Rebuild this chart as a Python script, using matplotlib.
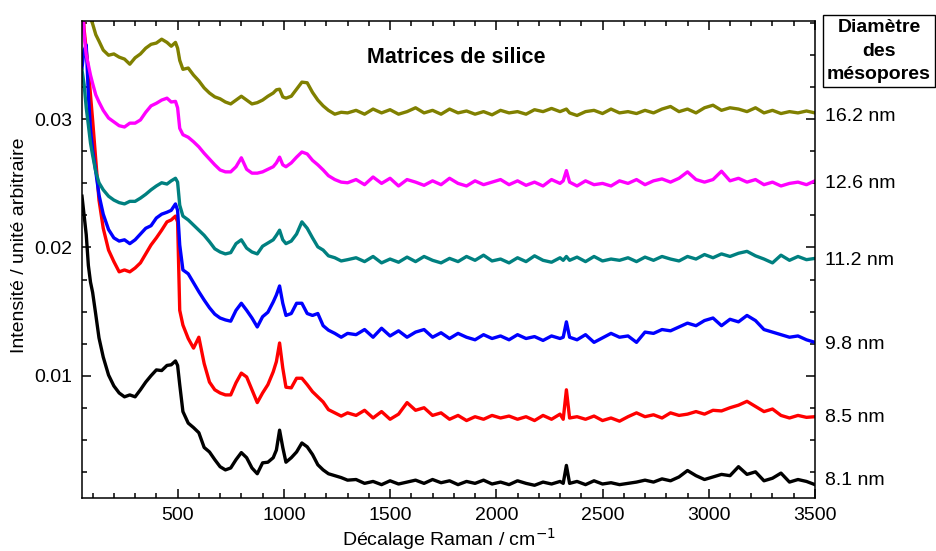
import numpy as np
import matplotlib
matplotlib.use("Agg")
import matplotlib.pyplot as plt
from matplotlib.ticker import MultipleLocator, FormatStrFormatter
import matplotlib.transforms as mtransforms

plt.rcParams['font.family'] = ['Liberation Sans', 'DejaVu Sans']

# décalage Raman (cm-1)
shift = [50, 60, 70, 80, 90, 100, 115, 130, 150, 175, 200, 225, 250, 275, 300, 325, 350, 375,
         400, 425, 450, 470, 490, 500, 510, 525, 550, 575, 600, 625, 650, 675, 700, 725, 750,
         775, 800, 825, 850, 875, 900, 925, 950, 965, 980, 995, 1010, 1035, 1060, 1085, 1110,
         1135, 1160, 1185, 1210, 1240, 1270, 1300,
         1340, 1380, 1420, 1460, 1500, 1540, 1580, 1620, 1660, 1700, 1740, 1780, 1820, 1860,
         1900, 1940, 1980, 2020, 2060, 2100, 2140, 2180, 2220, 2260, 2300, 2315, 2330, 2345,
         2380, 2420, 2460, 2500, 2540, 2580, 2620, 2660, 2700, 2740, 2780, 2820, 2860, 2900,
         2940, 2980, 3020, 3060, 3100, 3140, 3180, 3220, 3260, 3300, 3340, 3380, 3420, 3460, 3500]

# intensités en unités de 1e-3
i_81 = [24.0, 22.5, 21.0, 18.6, 17.3, 16.5, 14.75, 12.95, 11.45, 10.05, 9.2, 8.65, 8.35, 8.5, 8.35,
        8.9, 9.5, 10.0, 10.45, 10.4, 10.8, 10.85, 11.15, 10.8, 9.3, 7.2, 6.3, 5.95, 5.55, 4.4, 4.05,
        3.45, 2.9, 2.65, 2.8, 3.45, 4.0, 3.6, 2.8, 2.35, 3.2, 3.25, 3.6, 4.2, 5.75, 4.4, 3.25, 3.6,
        4.05, 4.75, 4.45, 3.85, 3.05, 2.65, 2.35, 2.2, 2.05, 1.85,
        1.9, 1.6, 1.75, 1.5, 1.8, 1.55, 1.7, 1.85, 1.6, 1.9, 1.65, 1.8, 1.5, 1.75, 1.6, 1.85, 1.55,
        1.7, 1.5, 1.8, 1.6, 1.45, 1.7, 1.55, 1.75, 1.6, 3.0, 1.6, 1.75, 1.5, 1.8, 1.55, 1.65, 1.5,
        1.6, 1.7, 1.85, 1.7, 1.95, 1.8, 2.1, 2.6, 2.2, 1.9, 2.1, 2.3, 2.2, 2.9, 2.3, 2.5, 1.8, 2.0,
        2.4, 1.7, 1.9, 1.75, 1.5]
i_85 = [40.0, 37.0, 35.4, 33.85, 31.9, 29.95, 26.8, 23.7, 21.5, 19.8, 18.9, 18.1, 18.25, 18.1, 18.4,
        18.8, 19.5, 20.2, 20.75, 21.35, 22.0, 22.15, 22.45, 22.0, 15.1, 13.95, 12.9, 12.15, 13.0,
        10.95, 9.5, 8.9, 8.65, 8.5, 8.5, 9.45, 10.2, 9.9, 8.9, 7.9, 8.65, 9.3, 10.3, 11.1, 12.55,
        10.6, 9.1, 9.05, 9.8, 9.8, 9.3, 8.75, 8.35, 7.95, 7.35, 7.1, 6.85, 7.1,
        6.9, 7.3, 6.7, 7.2, 6.6, 7.0, 7.9, 7.3, 7.5, 6.9, 7.1, 6.6, 6.9, 6.5, 6.8, 6.6, 6.9, 6.7,
        6.85, 6.6, 6.8, 6.5, 6.9, 6.6, 7.0, 6.6, 8.9, 6.7, 6.8, 6.6, 6.85, 6.5, 6.7, 6.45, 6.8,
        7.1, 6.8, 6.95, 6.7, 7.1, 6.9, 7.0, 7.2, 7.0, 7.3, 7.25, 7.5, 7.7, 8.0, 7.6, 7.2, 7.4, 6.9,
        6.7, 6.9, 6.75, 6.8]
i_98 = [34.0, 35.4, 35.8, 31.9, 29.2, 27.6, 25.9, 24.1, 22.6, 21.4, 20.75, 20.5, 20.6, 20.3, 20.6,
        21.05, 21.5, 21.7, 22.3, 22.6, 22.75, 22.9, 23.4, 22.9, 20.2, 18.25, 17.95, 17.25, 16.55,
        15.9, 15.3, 14.8, 14.5, 14.35, 14.25, 15.1, 15.65, 15.1, 14.5, 13.8, 14.6, 14.95, 15.75,
        16.3, 17.0, 15.65, 14.7, 14.85, 15.65, 15.65, 14.85, 14.7, 14.85, 13.9, 13.55, 13.3, 13.0,
        13.3,
        13.2, 13.6, 13.0, 13.7, 13.1, 13.5, 13.0, 13.4, 13.6, 13.0, 13.35, 12.9, 13.3, 13.0, 12.8,
        13.2, 12.9, 13.1, 12.8, 13.2, 12.9, 13.05, 12.75, 13.1, 12.9, 13.0, 14.2, 13.0, 12.8, 13.2,
        12.6, 12.95, 13.3, 13.0, 13.1, 12.6, 13.4, 13.3, 13.6, 13.5, 13.8, 14.1, 13.9, 14.3, 14.5,
        13.9, 14.4, 14.2, 14.7, 14.3, 13.6, 13.4, 13.2, 13.0, 13.1, 12.8, 12.6]
i_112 = [33.85, 32.7, 30.9, 29.55, 28.15, 27.2, 25.9, 25.05, 24.5, 24.0, 23.7, 23.5, 23.4, 23.6,
         23.6, 23.85, 24.15, 24.5, 24.8, 25.05, 24.95, 25.2, 25.4, 25.1, 23.3, 22.45, 22.15, 21.75,
         21.35, 20.95, 20.45, 19.9, 19.65, 19.5, 19.6, 20.3, 20.6, 19.95, 19.65, 19.5, 20.1, 20.35,
         20.6, 20.95, 21.35, 20.6, 20.3, 20.5, 21.05, 22.0, 21.5, 20.75, 20.05, 19.8, 19.35, 19.2,
         18.95, 19.05,
         19.2, 18.9, 19.3, 18.8, 19.1, 18.85, 19.25, 18.9, 19.3, 19.0, 18.8, 19.15, 18.9, 19.3,
         19.0, 19.4, 18.95, 19.1, 18.8, 19.2, 18.9, 19.35, 19.0, 18.85, 19.2, 19.0, 19.3, 19.0,
         19.25, 18.9, 19.3, 18.95, 19.1, 19.0, 19.2, 18.9, 19.25, 19.0, 19.3, 19.1, 18.95, 19.3,
         19.1, 19.45, 19.2, 19.5, 19.3, 19.55, 19.7, 19.35, 19.1, 18.8, 19.4, 19.0, 19.3, 19.05,
         19.15]
i_126 = [40.0, 36.6, 35.0, 34.25, 33.45, 32.8, 31.9, 31.35, 30.7, 30.1, 29.8, 29.5, 29.4, 29.7,
         29.7, 29.95, 30.55, 31.05, 31.25, 31.5, 31.65, 31.35, 31.4, 30.9, 29.3, 28.8, 28.6, 28.25,
         27.85, 27.35, 26.9, 26.45, 26.05, 25.9, 25.9, 26.3, 27.0, 26.1, 25.8, 25.8, 25.9, 26.1,
         26.3, 26.6, 27.05, 26.45, 26.3, 26.6, 27.05, 27.45, 27.3, 26.8, 26.45, 26.05, 25.6, 25.3,
         25.1, 25.05,
         25.3, 24.9, 25.5, 25.0, 25.4, 24.8, 25.3, 25.1, 24.85, 25.2, 24.9, 25.4, 25.0, 24.8, 25.2,
         24.9, 25.1, 25.3, 24.9, 25.2, 24.85, 25.1, 24.8, 25.3, 25.0, 25.2, 26.0, 25.1, 24.8, 25.2,
         24.9, 25.0, 24.8, 25.2, 25.0, 25.3, 24.9, 25.2, 25.35, 25.1, 25.4, 25.9, 25.3, 25.1, 25.3,
         25.95, 25.2, 25.4, 25.1, 25.3, 24.9, 25.1, 24.8, 25.0, 25.1, 24.9, 25.2]
i_162 = [40.0, 40.0, 40.0, 39.0, 37.9, 37.45, 36.6, 36.1, 35.4, 35.0, 35.1, 34.85, 34.7, 34.3,
         34.8, 35.1, 35.55, 35.85, 35.95, 36.25, 36.0, 35.7, 36.0, 35.55, 34.6, 33.9, 34.0, 33.45,
         33.0, 32.45, 32.05, 31.75, 31.6, 31.35, 31.2, 31.5, 31.8, 31.5, 31.2, 31.3, 31.5, 31.8,
         32.05, 32.3, 32.35, 31.75, 31.65, 31.8, 32.35, 32.9, 32.85, 32.1, 31.5, 31.05, 30.7, 30.4,
         30.55, 30.5,
         30.7, 30.4, 30.8, 30.5, 30.75, 30.4, 30.6, 30.9, 30.5, 30.7, 30.4, 30.8, 30.5, 30.65, 30.4,
         30.6, 30.35, 30.7, 30.5, 30.6, 30.4, 30.75, 30.6, 30.85, 30.6, 30.7, 30.8, 30.5, 30.3,
         30.6, 30.7, 30.45, 30.8, 30.5, 30.6, 30.45, 30.7, 30.5, 30.8, 31.0, 30.6, 30.8, 30.5, 30.9,
         31.1, 30.7, 30.9, 30.8, 30.6, 30.9, 30.5, 30.7, 30.45, 30.6, 30.5, 30.65, 30.5]

series = [i_81, i_85, i_98, i_112, i_126, i_162]
labels = ['8.1 nm', '8.5 nm', '9.8 nm', '11.2 nm', '12.6 nm', '16.2 nm']
colors = ['black', '#ff0000', '#0000ff', '#008080', '#ff00ff', '#808000']
label_y = [1.8, 6.7, 12.4, 19.0, 25.0, 30.2]

fig = plt.figure(figsize=(9.36, 5.51), dpi=100)
ax = fig.add_axes([0.0876, 0.0967, 0.7831, 0.8652])

for vals, c in zip(series, colors):
    ax.plot(shift, np.array(vals) * 1e-3, color=c, lw=2.4, solid_joinstyle='round')

ax.set_xlim(50, 3500)
ax.set_ylim(0.00048, 0.03767)
ax.xaxis.set_major_locator(MultipleLocator(500))
ax.xaxis.set_minor_locator(MultipleLocator(100))
ax.yaxis.set_major_locator(MultipleLocator(0.01))
ax.yaxis.set_minor_locator(MultipleLocator(0.0025))
ax.yaxis.set_major_formatter(FormatStrFormatter('%.2f'))
ax.tick_params(which='both', direction='in', top=True, right=True, width=1.1, labelsize=14)
ax.tick_params(which='major', length=6.5)
ax.tick_params(which='minor', length=3.5)
ax.tick_params(axis='x', pad=7)
ax.tick_params(axis='y', pad=7)
for sp in ax.spines.values():
    sp.set_linewidth(1.1)

ax.set_xlabel('Décalage Raman / cm$^{-1}$', fontsize=14, labelpad=1)
ax.set_ylabel('Intensité / unité arbitraire', fontsize=14)
ax.yaxis.set_label_coords(-0.074, 0.53)

ax.text(0.51, 0.924, 'Matrices de silice', transform=ax.transAxes, ha='center', va='center',
        fontsize=15.5, fontweight='bold')

trans = mtransforms.blended_transform_factory(ax.transAxes, ax.transData)
for lab, y in zip(labels, label_y):
    ax.text(1.014, y * 1e-3, lab, transform=trans, ha='left', va='center', fontsize=14)

fig.text(879 / 936, 1 - 51 / 551, 'Diamètre\ndes\nmésopores', ha='center', va='center',
         fontsize=14, fontweight='bold', linespacing=1.5,
         bbox=dict(boxstyle='square,pad=0.2', fc='white', ec='black', lw=1.0))

fig.savefig('out.png', dpi=100)
